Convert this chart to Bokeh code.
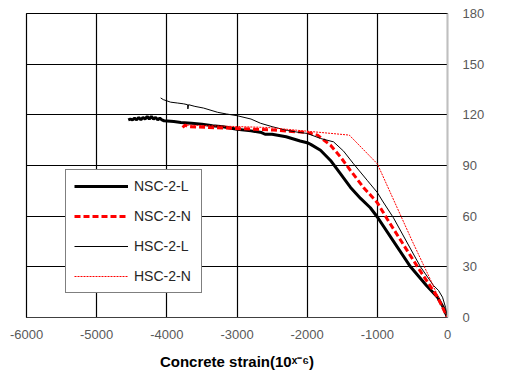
import math
from bokeh.plotting import figure
from bokeh.models import Range1d, FixedTicker, Legend, LegendItem, Label
from bokeh.embed import file_html
from bokeh.resources import INLINE

# ---- data (strain in 10^-6, load in kN) ----
nsc_l_strain = [-4550, -4520, -4490, -4460, -4430, -4400, -4370, -4340, -4310, -4280,
                -4250, -4220, -4190, -4160, -4130, -4100, -4070, -4040, -3900, -3800,
                -3650, -3500, -3350, -3200, -3000, -2800, -2650, -2600, -2500, -2300,
                -2100, -2000, -1950, -1810, -1667, -1524, -1382, -1239, -1100, -1000,
                -800, -527, -300, -142, -60, 0]
nsc_l_load = [117, 117.5, 117, 118, 117, 118.5, 117, 118.5, 117.5, 119,
              117.5, 119, 117.5, 118.5, 117, 118, 117, 116.5, 116, 115.5,
              115, 114.5, 113.5, 113, 111.5, 110.5, 109.5, 108.5, 108.5, 107,
              104.5, 103.5, 102.5, 99, 93, 85, 77, 70.5, 65, 59.5,
              47, 30, 19, 12, 6, 0]

nsc_n_strain = [-3775, -3740, -3700, -3400, -3048, -2479, -2000, -1852, -1667, -1524,
                -1382, -1197, -1000, -855, -427, -142, 0]
nsc_n_load = [112.5, 114, 113, 112.5, 112, 111, 109.5, 108, 102, 95,
              87, 77, 68, 58, 30, 12, 0]

hsc_l_strain = [-4088, -4050, -3946, -3850, -3760, -3704, -3700, -3690, -3600, -3476,
                -3276, -3150, -3000, -2800, -2664, -2500, -2279, -2100, -2000, -1810,
                -1624, -1481, -1339, -1140, -1000, -926, -770, -385, -200, -128,
                -71, -28, 0]
hsc_l_load = [130, 129, 127.5, 127, 126.5, 126, 123.5, 126, 125, 124,
              121.5, 120.5, 119.5, 117.5, 115, 113, 110.7, 109.5, 109, 106,
              104, 98.5, 91, 81, 74, 69, 59, 30, 19, 16,
              12, 6, 0]

hsc_n_strain = [-3750, -2564, -1400, -1000, -500, -250, 0]
hsc_n_load = [114, 112.5, 108, 91, 45, 23, 0]

x_ticks = [-6000, -5000, -4000, -3000, -2000, -1000, 0]
x_tick_labels = ["-6000", "-5000", "-4000", "-3000", "-2000", "-1000", "0"]
y_ticks = [0, 30, 60, 90, 120, 150, 180]

series_names = ["NSC-2-L", "NSC-2-N", "HSC-2-L", "HSC-2-N"]

FONT = "Liberation Sans"

p = figure(width=523, height=378, output_backend="svg", toolbar_location=None,
           x_range=Range1d(-6000, 0), y_range=Range1d(0, 180),
           y_axis_location="right",
           min_border_left=26, min_border_right=76, min_border_top=13, min_border_bottom=61)
p.background_fill_color = "white"
p.border_fill_color = "white"
p.outline_line_color = "black"
p.outline_line_width = 1.2

# grid
p.xgrid.ticker = FixedTicker(ticks=x_ticks)
p.ygrid.ticker = FixedTicker(ticks=y_ticks)
for g in (p.xgrid, p.ygrid):
    g.grid_line_color = "black"
    g.grid_line_width = 1.2

# axes
p.xaxis.ticker = FixedTicker(ticks=x_ticks)
p.yaxis.ticker = FixedTicker(ticks=y_ticks)
p.xaxis.major_label_overrides = {t: s for t, s in zip(x_ticks, x_tick_labels)}
for ax in (p.xaxis[0], p.yaxis[0]):
    ax.major_tick_line_color = None
    ax.minor_tick_line_color = None
    ax.major_tick_out = 0
    ax.major_tick_in = 0
    ax.major_label_text_color = "#595959"
    ax.major_label_text_font = FONT
    ax.major_label_text_font_size = "13px"
p.xaxis.axis_line_color = "#404040"
p.yaxis.axis_line_color = "#bfbfbf"
p.yaxis.axis_line_width = 1.5
p.xaxis.major_label_standoff = 12
p.yaxis.major_label_standoff = 15

p.xaxis.axis_label = "Concrete strain(10\u02e3\u207b\u2076)"
p.xaxis.axis_label_text_font = FONT
p.xaxis.axis_label_text_font_style = "bold"
p.xaxis.axis_label_text_font_size = "15px"
p.xaxis.axis_label_text_color = "black"
p.xaxis.axis_label_standoff = 11

# series
r1 = p.line(nsc_l_strain, nsc_l_load, line_color="black", line_width=3)
r2 = p.line(nsc_n_strain, nsc_n_load, line_color="#ff0000", line_width=3, line_dash="6 3")
r3 = p.line(hsc_l_strain, hsc_l_load, line_color="black", line_width=1)
r4 = p.line(hsc_n_strain, hsc_n_load, line_color="#ff0000", line_width=1, line_dash="2 1")

legend = Legend(items=[LegendItem(label=n, renderers=[r]) for n, r in zip(series_names, [r1, r2, r3, r4])],
                location=(39, 24), orientation="vertical",
                padding=8, spacing=14, glyph_width=54, glyph_height=16,
                label_standoff=6, label_width=59, label_height=16,
                label_text_font=FONT, label_text_font_size="14px", label_text_color="#262626",
                border_line_color="black", border_line_width=1.5,
                background_fill_color="white", background_fill_alpha=1.0,
                margin=0)
p.add_layout(legend, "center")

ylab = Label(x=490, y=152, x_units="screen", y_units="screen", text="Load (kN)",
             angle=math.pi / 2, text_align="center", text_baseline="middle",
             text_font=FONT, text_font_style="bold", text_font_size="14px", text_color="black")
p.add_layout(ylab)

open("out.html", "w").write(file_html(p, INLINE))
